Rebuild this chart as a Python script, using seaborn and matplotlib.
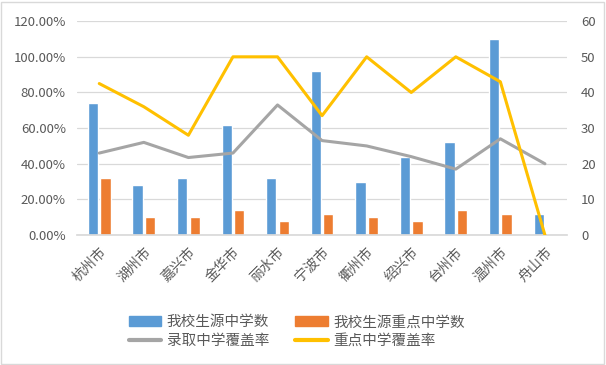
import pandas as pd
import matplotlib
matplotlib.use("Agg")
import matplotlib.pyplot as plt
import seaborn as sns
from matplotlib.ticker import FuncFormatter
from matplotlib.patches import Patch, Rectangle
from matplotlib.lines import Line2D

# data
cities = ["杭州市", "湖州市", "嘉兴市", "金华市", "丽水市", "宁波市",
          "衢州市", "绍兴市", "台州市", "温州市", "舟山市"]
schools = [37, 14, 16, 31, 16, 46, 15, 22, 26, 55, 6]
key_schools = [16, 5, 5, 7, 4, 6, 5, 4, 7, 6, 0]
admit_rate = [46, 52, 43.5, 46, 73, 53, 50, 44, 37, 54, 40]
key_rate = [85, 72, 56, 100, 100, 67, 100, 80, 100, 86, 0]

bar_names = ["我校生源中学数", "我校生源重点中学数"]
line_names = ["录取中学覆盖率", "重点中学覆盖率"]
bar_colors = ["#5B9BD5", "#ED7D31"]
line_colors = ["#A5A5A5", "#FFC000"]
txt = "#595959"

sns.set_theme(style="white")
plt.rcParams["font.family"] = ["Noto Sans CJK SC", "DejaVu Sans"]

bars = pd.DataFrame({
    "city": cities * 2,
    "series": [bar_names[0]] * len(cities) + [bar_names[1]] * len(cities),
    "count": schools + key_schools,
})

fig = plt.figure(figsize=(6.06, 3.65), dpi=100)
ax = fig.add_axes([0.127, 0.356, 0.809, 0.586])

# bars on the count scale (shown on the right)
sns.barplot(data=bars, x="city", y="count", hue="series", palette=bar_colors,
            width=0.56, gap=0.18, ax=ax, legend=False, saturation=1)
ax.set_ylim(0, 60)
ax.set_yticks(range(0, 61, 10))
ax.grid(axis="y", color="#D9D9D9", linewidth=0.9)
ax.set_axisbelow(True)

# lines on the percent scale (shown on the left)
ax2 = ax.twinx()
x = list(range(len(cities)))
sns.lineplot(x=x, y=[v / 100 for v in admit_rate], color=line_colors[0],
             linewidth=2.2, ax=ax2)
sns.lineplot(x=x, y=[v / 100 for v in key_rate], color=line_colors[1],
             linewidth=2.2, ax=ax2)
ax2.set_ylim(0, 1.2)
ax2.set_yticks([i * 0.2 for i in range(7)])
ax2.yaxis.set_major_formatter(FuncFormatter(lambda v, p: f"{v * 100:.2f}%"))

# swap sides: counts on the right, percentages on the left
ax.yaxis.tick_right()
ax2.yaxis.tick_left()

for a in (ax, ax2):
    a.set_xlabel("")
    a.set_ylabel("")
    for s in a.spines.values():
        s.set_visible(False)
    a.tick_params(length=0, colors=txt, labelsize=9.5)
ax.spines["bottom"].set_visible(True)
ax.spines["bottom"].set_color("#D9D9D9")
ax.set_xlim(-0.5, len(cities) - 0.5)
ax.tick_params(axis="y", pad=10)
ax.tick_params(axis="x", pad=7)
ax2.tick_params(axis="y", pad=8)
ax.set_xticks(x)
ax.set_xticklabels(cities, rotation=45, ha="right", rotation_mode="anchor",
                   fontsize=10, color=txt)

handles = [Patch(color=bar_colors[0]), Line2D([], [], color=line_colors[0], lw=3),
           Patch(color=bar_colors[1]), Line2D([], [], color=line_colors[1], lw=3)]
labels = [bar_names[0], line_names[0], bar_names[1], line_names[1]]
fig.legend(handles, labels, ncol=2, loc="center", bbox_to_anchor=(0.49, 0.092),
           frameon=False, fontsize=10.5, labelcolor=txt, handlelength=2.2,
           columnspacing=1.8, handletextpad=0.4, labelspacing=0.3)

fig.patches.append(Rectangle((0.002, 0.004), 0.995, 0.99, transform=fig.transFigure,
                             fill=False, edgecolor="#D9D9D9", linewidth=1))

fig.savefig("out.png", dpi=100)
